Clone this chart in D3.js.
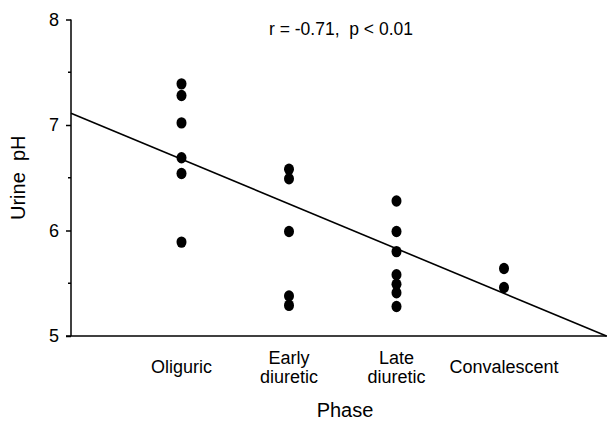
<!DOCTYPE html>
<html>
<head>
<meta charset="utf-8">
<script src="https://cdn.jsdelivr.net/npm/d3@7"></script>
<style>
  body { margin: 0; background: #fff; }
  text { font-family: "Liberation Sans", Arial, sans-serif; fill: #000; white-space: pre; }
</style>
</head>
<body>
<script>
// phases along the x axis
var phases = ["Oliguric", "Early\ndiuretic", "Late\ndiuretic", "Convalescent"];

// urine pH values, per phase
var oliguric = [7.39, 7.28, 7.02, 6.69, 6.54, 5.89];
var earlyDiuretic = [6.58, 6.49, 5.99, 5.38, 5.29];
var lateDiuretic = [6.28, 5.99, 5.80, 5.58, 5.49, 5.41, 5.28];
var convalescent = [5.64, 5.46];

var yTicks = [5, 6, 7, 8];
var yMinorTicks = [5.5, 6.5, 7.5];

// regression line: pH = a + b * phase
var fitA = 7.10, fitB = -0.424;

var w = 610, h = 423;

var svg = d3.select("body")
            .append("svg")
            .attr("width", w)
            .attr("height", h);

var x = d3.scaleLinear().domain([0, 5]).range([74, 611.5]);
var y = d3.scaleLinear().domain([5, 8]).range([336, 19.5]);
var xLeft = 71;

var points = [];
[oliguric, earlyDiuretic, lateDiuretic, convalescent].forEach(function(arr, i) {
  arr.forEach(function(v) { points.push({phase: i + 1, ph: v}); });
});

// y axis
var yAxis = d3.axisLeft(y)
  .tickValues(yTicks)
  .tickSize(5)
  .tickPadding(7)
  .tickFormat(d3.format("d"));

var gy = svg.append("g")
  .attr("transform", "translate(" + xLeft + ",0)")
  .call(yAxis);
gy.select(".domain").attr("d", "M0," + y(8) + "V" + y(5)).attr("stroke-width", 1.5);
gy.selectAll(".tick line").attr("stroke-width", 1.5);
gy.selectAll(".tick text")
  .attr("font-size", "18px")
  .attr("font-family", "Liberation Sans, Arial, sans-serif");

gy.selectAll(".minor")
  .data(yMinorTicks)
  .enter()
  .append("line")
  .attr("x1", -3)
  .attr("x2", 0)
  .attr("y1", function(d) { return y(d); })
  .attr("y2", function(d) { return y(d); })
  .attr("stroke", "#000")
  .attr("stroke-width", 1.5);

// x axis line
svg.append("line")
  .attr("x1", xLeft - 5)
  .attr("x2", 607)
  .attr("y1", y(5))
  .attr("y2", y(5))
  .attr("stroke", "#000")
  .attr("stroke-width", 1.5);

// category labels
var lab = svg.selectAll(".cat")
  .data(phases)
  .enter()
  .append("text")
  .attr("class", "cat")
  .attr("text-anchor", "middle")
  .attr("font-size", "18px");

lab.each(function(d, i) {
  var lines = d.split("\n");
  var t = d3.select(this);
  var y0 = lines.length === 1 ? 373 : 364;
  lines.forEach(function(s, j) {
    t.append("tspan")
      .attr("x", x(i + 1))
      .attr("y", y0 + j * 19)
      .text(s);
  });
});

// regression line
svg.append("line")
  .attr("x1", xLeft)
  .attr("y1", y(fitA + fitB * x.invert(xLeft)))
  .attr("x2", x((5 - fitA) / fitB))
  .attr("y2", y(5))
  .attr("stroke", "#000")
  .attr("stroke-width", 1.6);

// data points
svg.selectAll("ellipse")
  .data(points)
  .enter()
  .append("ellipse")
  .attr("cx", function(d) { return x(d.phase); })
  .attr("cy", function(d) { return y(d.ph); })
  .attr("rx", 5)
  .attr("ry", 5.7)
  .attr("fill", "#000");

// axis titles
svg.append("text")
  .attr("x", 345)
  .attr("y", 417)
  .attr("text-anchor", "middle")
  .attr("font-size", "20px")
  .text("Phase");

svg.append("text")
  .attr("transform", "translate(25," + y(6.5) + ") rotate(-90)")
  .attr("text-anchor", "middle")
  .attr("font-size", "20px")
  .text("Urine  pH");

// annotation
svg.append("text")
  .attr("x", 341)
  .attr("y", 35)
  .attr("text-anchor", "middle")
  .attr("font-size", "17.5px")
  .text("r = -0.71,  p < 0.01");
</script>
</body>
</html>
